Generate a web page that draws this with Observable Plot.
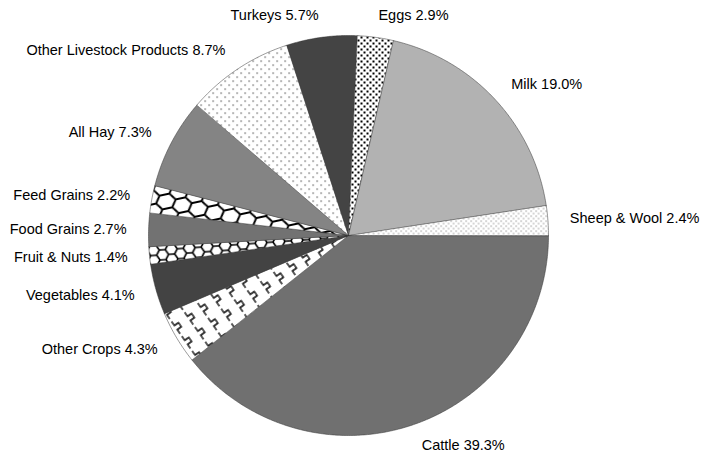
<!DOCTYPE html>
<html>
<head>
<meta charset="utf-8">
<script src="https://cdn.jsdelivr.net/npm/d3@7"></script>
<script src="https://cdn.jsdelivr.net/npm/@observablehq/plot@0.6"></script>
<style>
  html, body { margin: 0; padding: 0; background: #fff; }
  #chart svg { display: block; }
</style>
</head>
<body>
<div id="chart"></div>
<script>
// ---- data (clockwise, starting at 3 o'clock) ----
const categories = ["Cattle", "Other Crops", "Vegetables", "Fruit & Nuts", "Food Grains", "Feed Grains",
  "All Hay", "Other Livestock Products", "Turkeys", "Eggs", "Milk", "Sheep & Wool"];
const shares = [39.3, 4.3, 4.1, 1.4, 2.7, 2.2, 7.3, 8.7, 5.7, 2.9, 19.0, 2.4];

// ---- styles ----
const sliceFills = ["#707070", "url(#p-crops)", "#434343", "url(#p-fruit)", "#727272", "url(#p-feed)",
  "#848484", "url(#p-livestock)", "#444444", "url(#p-eggs)", "#b2b2b2", "url(#p-sheep)"];

const W = 702, H = 464;
const cx = 348, cy = 235, R = 200;   // pie centre and radius in pixels
const labelR = 1.11;                  // label distance, in radii

const arcs = d3.pie().sort(null)
  .startAngle(Math.PI / 2).endAngle(Math.PI / 2 + 2 * Math.PI)(shares);

const slices = arcs.map((a, i) => {
  const pts = [{x: 0, y: 0}];
  const n = Math.max(2, Math.ceil((a.endAngle - a.startAngle) / (Math.PI / 360)));
  for (let k = 0; k <= n; k++) {
    const t = a.startAngle + (a.endAngle - a.startAngle) * k / n;
    pts.push({x: Math.sin(t), y: Math.cos(t)});
  }
  return {name: categories[i], fill: sliceFills[i], pts};
});

const labels = arcs.map((a, i) => {
  const m = (a.startAngle + a.endAngle) / 2;
  return {
    text: `${categories[i]} ${shares[i].toFixed(1)}%`,
    x: labelR * Math.sin(m),
    y: labelR * Math.cos(m),
    right: Math.sin(m) >= 0
  };
});

const textOpts = {x: "x", y: "y", text: "text", fontSize: 14.5, fill: "#000",
  fontFamily: "'Liberation Sans', Arial, sans-serif", lineAnchor: "middle"};

const svg = Plot.plot({
  width: W, height: H,
  margin: 0,
  style: {background: "#fff", overflow: "visible"},
  x: {domain: [-cx / R, (W - cx) / R], axis: null},
  y: {domain: [-(H - cy) / R, cy / R], axis: null},
  marks: [
    ...slices.map(s => Plot.line(s.pts, {x: "x", y: "y", curve: "linear-closed",
      fill: s.fill, stroke: "#333", strokeWidth: 0.5})),
    Plot.text(labels.filter(d => d.right), {...textOpts, textAnchor: "start"}),
    Plot.text(labels.filter(d => !d.right), {...textOpts, textAnchor: "end"})
  ]
});

const defs = `
<defs>
  <pattern id="p-eggs" width="6" height="6" patternUnits="userSpaceOnUse">
    <rect width="6" height="6" fill="#fff"/>
    <rect x="0" y="0" width="2" height="2" fill="#000"/>
    <rect x="3" y="3" width="2" height="2" fill="#000"/>
  </pattern>
  <pattern id="p-livestock" width="8" height="8" patternUnits="userSpaceOnUse">
    <rect width="8" height="8" fill="#fff"/>
    <rect x="0" y="0" width="1.2" height="1.2" fill="#333"/>
    <rect x="4" y="4" width="1.2" height="1.2" fill="#333"/>
  </pattern>
  <pattern id="p-sheep" width="5" height="5" patternUnits="userSpaceOnUse">
    <rect width="5" height="5" fill="#fff"/>
    <rect x="0" y="0" width="1.2" height="1.2" fill="#8a8a8a"/>
    <rect x="2.5" y="2.5" width="1.2" height="1.2" fill="#8a8a8a"/>
  </pattern>
  <pattern id="p-crops" width="16" height="18" patternUnits="userSpaceOnUse" patternTransform="rotate(-35)">
    <rect width="16" height="18" fill="#fff"/>
    <path d="M4,1 v5 h5 v5 h-5 v5" fill="none" stroke="#000" stroke-width="1.3"/>
  </pattern>
  <pattern id="p-feed" width="30" height="14" patternUnits="userSpaceOnUse" patternTransform="rotate(-12)">
    <rect width="30" height="14" fill="#fff"/>
    <path d="M0,0 H5 L10,7 L5,14 H0 M10,7 H20 L25,0 H30 M20,7 L25,14 H30" fill="none" stroke="#000" stroke-width="2"/>
  </pattern>
  <pattern id="p-fruit" width="18" height="10" patternUnits="userSpaceOnUse" patternTransform="rotate(-4)">
    <rect width="18" height="10" fill="#fff"/>
    <path d="M0,0 H3 L6,5 L3,10 H0 M6,5 H12 L15,0 H18 M12,5 L15,10 H18" fill="none" stroke="#000" stroke-width="1.6"/>
  </pattern>
</defs>`;
svg.insertAdjacentHTML("afterbegin", defs);
document.getElementById("chart").appendChild(svg);
</script>
</body>
</html>
